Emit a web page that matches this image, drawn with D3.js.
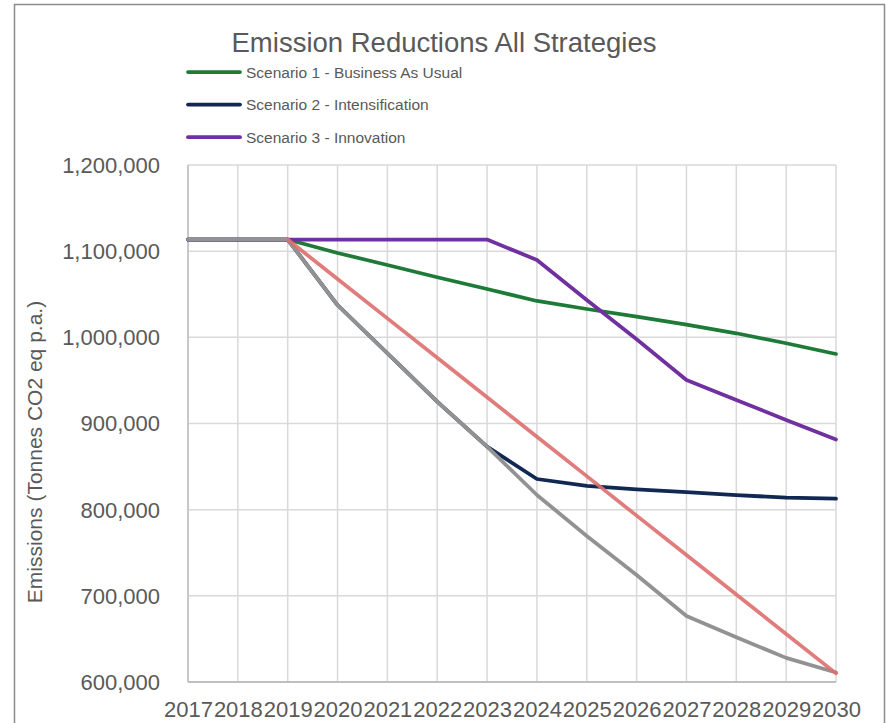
<!DOCTYPE html>
<html>
<head>
<meta charset="utf-8">
<script src="https://cdn.jsdelivr.net/npm/d3@7/dist/d3.min.js"></script>
<style>
  html, body { margin: 0; padding: 0; background: #ffffff; }
  svg { display: block; }
  text { font-family: "Liberation Sans", Arial, sans-serif; fill: #595959; }
</style>
</head>
<body>
<svg id="chart" width="886" height="723"></svg>
<script>
// ---- data ----
const years = ["2017","2018","2019","2020","2021","2022","2023","2024","2025","2026","2027","2028","2029","2030"];
const yTicks = [600000, 700000, 800000, 900000, 1000000, 1100000, 1200000];

const scenario1 = [1113500,1113500,1113500,1097900,1084000,1069700,1056100,1042200,1032900,1024000,1014700,1004700,993100,980700];
const scenario2 = [1113500,1113500,1113500,1037500,981500,925300,873100,835600,827500,823600,820500,817000,813900,812800];
const scenario3 = [1113500,1113500,1113500,1113500,1113500,1113500,1113500,1089800,1043300,997700,950500,927300,904100,881500];
const pathway   = [1113500,1113500,1113500,1037500,981500,925300,873100,817000,769500,724200,676600,652000,628000,611000];
const linear    = [null,null,1113500,1067700,1022000,976200,930400,884700,838900,793100,747400,701600,655800,610000];

const seriesNames = ["Scenario 1 - Business As Usual","Scenario 2 - Intensification","Scenario 3 - Innovation"];
const title = "Emission Reductions All Strategies";
const yTitle = "Emissions (Tonnes CO2 eq p.a.)";

// ---- drawing ----
const svg = d3.select("#chart");
const pLeft = 188, pRight = 836, pTop = 165, pBottom = 682;

const x = d3.scalePoint().domain(years).range([pLeft, pRight]);
const y = d3.scaleLinear().domain([600000, 1200000]).range([pBottom, pTop]);

// outer chart border
svg.append("rect").attr("x", 14.5).attr("y", 4.5).attr("width", 870).attr("height", 730)
  .attr("fill", "none").attr("stroke", "#8c8c8c").attr("stroke-width", 1.5);

// gridlines
const grid = svg.append("g");
grid.selectAll("line.v").data(years).join("line").attr("class", "v")
  .attr("x1", d => x(d)).attr("x2", d => x(d))
  .attr("y1", pTop).attr("y2", pBottom)
  .attr("stroke", "#d9d9d9").attr("stroke-width", 1.5);
grid.selectAll("line.h").data(yTicks).join("line").attr("class", "h")
  .attr("x1", pLeft).attr("x2", pRight)
  .attr("y1", d => y(d)).attr("y2", d => y(d))
  .attr("stroke", "#d9d9d9").attr("stroke-width", 1.5);

// axis lines
svg.append("line").attr("x1", pLeft).attr("x2", pLeft).attr("y1", pTop).attr("y2", pBottom)
  .attr("stroke", "#bfbfbf").attr("stroke-width", 1.5);
svg.append("line").attr("x1", pLeft).attr("x2", pRight).attr("y1", pBottom).attr("y2", pBottom)
  .attr("stroke", "#bfbfbf").attr("stroke-width", 2);

// y axis labels via d3 axis
const yAxis = d3.axisLeft(y).tickValues(yTicks).tickSize(0).tickPadding(0)
  .tickFormat(d3.format(","));
const yg = svg.append("g").attr("transform", `translate(160,0)`).call(yAxis);
yg.select(".domain").remove();
yg.selectAll("text").attr("font-size", "22px").attr("fill", "#595959")
  .style("font-family", '"Liberation Sans", Arial, sans-serif')
  .attr("dy", "0.34em");

// x axis labels via d3 axis
const xAxis = d3.axisBottom(x).tickSize(0).tickPadding(0);
const xg = svg.append("g").attr("transform", `translate(0,${pBottom})`).call(xAxis);
xg.select(".domain").remove();
xg.selectAll("text").attr("font-size", "22px").attr("fill", "#595959")
  .style("font-family", '"Liberation Sans", Arial, sans-serif')
  .attr("y", 34.5).attr("dy", null);

// lines
const line = d3.line()
  .defined(d => d.v !== null)
  .x(d => x(d.year)).y(d => y(d.v));
function draw(values, color, width) {
  const data = years.map((yr, i) => ({ year: yr, v: values[i] }));
  svg.append("path").datum(data).attr("d", line)
    .attr("fill", "none").attr("stroke", color).attr("stroke-width", width)
    .attr("stroke-linejoin", "round").attr("stroke-linecap", "round");
}
draw(scenario1, "#1e7a37", 3.75);
draw(scenario2, "#112952", 3.75);
draw(scenario3, "#7030a0", 3.75);
draw(pathway, "#929292", 3.75);
draw(linear, "rgba(222,110,110,0.9)", 3.75);

// title
svg.append("text").attr("x", 444).attr("y", 52).attr("text-anchor", "middle")
  .attr("font-size", "27.5px").text(title);

// legend
const legendColors = ["#1e7a37", "#112952", "#7030a0"];
const lg = svg.append("g");
seriesNames.forEach((name, i) => {
  const ly = 72 + i * 32.6;
  lg.append("line").attr("x1", 188).attr("x2", 240).attr("y1", ly).attr("y2", ly)
    .attr("stroke", legendColors[i]).attr("stroke-width", 3.75).attr("stroke-linecap", "round");
  lg.append("text").attr("x", 246).attr("y", ly + 5.5).attr("font-size", "15.5px").text(name);
});

// y axis title
svg.append("text")
  .attr("transform", "translate(42,452) rotate(-90)")
  .attr("text-anchor", "middle").attr("font-size", "21px").text(yTitle);
</script>
</body>
</html>
